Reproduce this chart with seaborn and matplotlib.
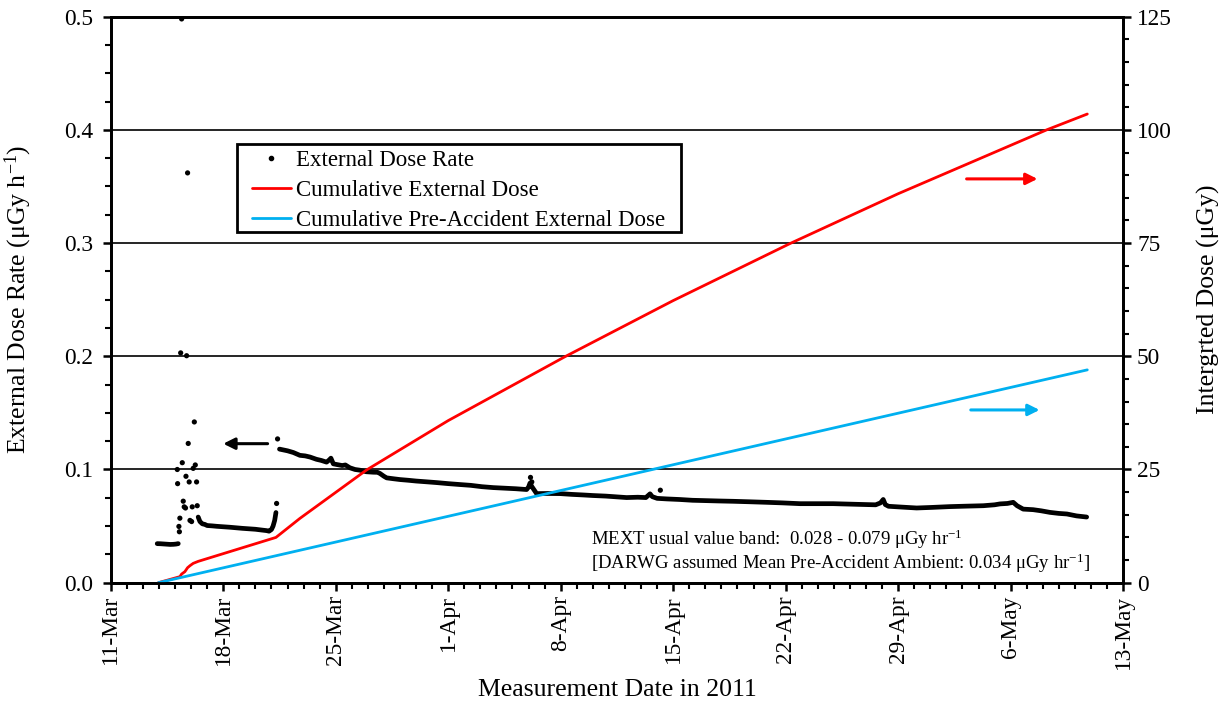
import numpy as np
import pandas as pd
import matplotlib
matplotlib.use("Agg")
import matplotlib.pyplot as plt
import matplotlib.dates as mdates
from matplotlib.lines import Line2D
from matplotlib.patches import Rectangle
from matplotlib.ticker import MultipleLocator, FormatStrFormatter
import seaborn as sns

START = pd.Timestamp("2011-03-11")

# ---------------- data (days after 11-Mar-2011 00:00) ----------------
# pre-accident baseline trace
base_days = [2.89, 3.1, 3.3, 3.5, 3.7, 3.9, 4.05, 4.2]
base_rate = [0.0345, 0.0344, 0.0342, 0.0340, 0.0338, 0.0339, 0.0341, 0.0345]

# trace between the first plume and the second rise
mid_days = [5.44, 5.55, 5.7, 5.85, 6.0, 6.3, 6.6, 7.0, 7.4, 7.8, 8.2, 8.6,
            9.0, 9.4, 9.7, 9.85, 10.0, 10.1, 10.2, 10.28]
mid_rate = [0.058, 0.054, 0.052, 0.0515, 0.0505, 0.0502, 0.0498, 0.0494,
            0.0490, 0.0485, 0.0480, 0.0476, 0.0472, 0.0465, 0.0460, 0.0455,
            0.0470, 0.0500, 0.0550, 0.0620]

# main trace from 21-Mar onwards
main_days = [10.5, 11.0, 11.36, 11.77, 12.1, 12.4, 12.8, 13.1, 13.43, 13.6,
             13.7, 13.85, 14.06, 14.4, 14.6, 14.88, 15.2, 15.5, 15.9, 16.33,
             16.6, 16.75, 17.0, 17.17, 17.6, 18.0, 18.5, 19.0, 19.66, 20.3,
             21.0, 21.73, 22.4, 23.1, 23.8, 24.5, 25.2, 25.88, 26.0, 26.09,
             26.2, 26.4, 26.5, 27.2, 27.95, 28.7, 29.4, 30.0, 30.8, 31.5,
             32.1, 32.8, 33.3, 33.56, 33.7, 34.0, 34.6, 35.4, 36.2, 37.0,
             37.8, 38.74, 39.7, 40.8, 41.8, 42.9, 43.9, 44.96, 46.0, 47.04,
             47.6, 47.9, 48.07, 48.2, 48.4, 49.2, 50.15, 51.1, 52.2, 53.2,
             54.3, 55.0, 55.34, 55.8, 56.16, 56.4, 56.78, 57.4, 57.9, 58.45,
             59.0, 59.5, 60.1, 60.73]
main_rate = [0.118, 0.1165, 0.115, 0.1125, 0.112, 0.111, 0.109, 0.108, 0.1065, 0.1085,
             0.110, 0.105, 0.1044, 0.1035, 0.104, 0.1015, 0.100, 0.0994, 0.098, 0.0976,
             0.0975, 0.0965, 0.094, 0.0926, 0.0918, 0.0911, 0.0905, 0.0898, 0.0891, 0.0884,
             0.0875, 0.0867, 0.086, 0.0848, 0.084, 0.0835, 0.083, 0.0823, 0.0845, 0.088,
             0.085, 0.0808, 0.0787, 0.0788, 0.0787, 0.078, 0.0775, 0.077, 0.0765, 0.0758,
             0.0752, 0.0755, 0.0752, 0.0785, 0.076, 0.0745, 0.074, 0.0735, 0.0728, 0.0725,
             0.0722, 0.0719, 0.0715, 0.071, 0.0705, 0.0698, 0.0698, 0.0698, 0.0694, 0.069,
             0.0688, 0.0705, 0.0735, 0.069, 0.0675, 0.0668, 0.066, 0.0665, 0.0672, 0.0676,
             0.068, 0.0688, 0.0696, 0.070, 0.071, 0.068, 0.065, 0.0645, 0.0635, 0.0621,
             0.0612, 0.0607, 0.059, 0.058]

# isolated readings (plume spikes and outliers)
spike_days = [4.24, 4.27, 4.30, 4.16, 4.14, 4.45, 4.68, 4.82, 4.88, 4.51,
              4.57, 4.65, 5.07, 4.93, 5.03, 5.13, 5.26, 5.34, 5.20, 5.38,
              4.41, 4.78, 4.35, 4.72, 10.32, 10.38, 26.12, 26.2, 34.2]
spike_rate = [0.0497, 0.045, 0.057, 0.0875, 0.100, 0.106, 0.094, 0.123, 0.089, 0.072,
              0.067, 0.066, 0.067, 0.055, 0.054, 0.101, 0.104, 0.089, 0.142, 0.068,
              0.498, 0.362, 0.203, 0.2005, 0.070, 0.127, 0.093, 0.089, 0.0817]

# cumulative doses (uGy)
cum_days = [2.96, 4.30, 4.41, 4.61, 4.78, 4.93, 5.13, 5.44, 10.28, 11.77,
            15.92, 21.0, 28.26, 35.0, 42.27, 49.0, 58.24, 60.77]
cum_dose = [0.0, 1.33, 1.91, 2.43, 3.31, 3.76, 4.27, 4.71, 10.0, 14.2,
            24.9, 35.8, 49.9, 62.3, 74.9, 85.9, 100.0, 103.5]

pre_days = [2.96, 60.77]
pre_dose = [0.0, 47.0]

tick_labels = ["11-Mar", "18-Mar", "25-Mar", "1-Apr", "8-Apr", "15-Apr",
               "22-Apr", "29-Apr", "6-May", "13-May"]

# ---------------- build tables ----------------
def to_dates(d):
    return START + pd.to_timedelta(np.asarray(d, dtype=float), unit="D")

trace = pd.DataFrame({
    "date": np.concatenate([to_dates(base_days), to_dates(mid_days), to_dates(main_days)]),
    "rate": base_rate + mid_rate + main_rate,
    "seg": [0] * len(base_days) + [1] * len(mid_days) + [2] * len(main_days),
})
spikes = pd.DataFrame({"date": to_dates(spike_days), "rate": spike_rate})
cum = pd.DataFrame({"date": to_dates(cum_days), "dose": cum_dose})
pre = pd.DataFrame({"date": to_dates(pre_days), "dose": pre_dose})

# ---------------- style ----------------
sns.set_theme(style="ticks", rc={
    "text.color": "black", "axes.labelcolor": "black",
    "xtick.color": "black", "ytick.color": "black", "axes.edgecolor": "black",
})
plt.rcParams["font.family"] = ["Liberation Serif", "DejaVu Serif"]
plt.rcParams["mathtext.fontset"] = "custom"
plt.rcParams["mathtext.rm"] = "Liberation Serif"
plt.rcParams["mathtext.it"] = "Liberation Serif:italic"
plt.rcParams["mathtext.bf"] = "Liberation Serif:bold"

RED = "#FF0000"
BLUE = "#00B0F0"

fig = plt.figure(figsize=(12.28, 7.02), dpi=100)
ax = fig.add_axes([0.0902, 0.16995, 0.8244, 0.8063])

ax.grid(axis="y", which="major", color="black", lw=1.2)
ax.set_axisbelow(True)

sns.lineplot(data=trace, x="date", y="rate", units="seg", estimator=None,
             color="black", lw=3.4, ax=ax, legend=False)
sns.scatterplot(data=spikes, x="date", y="rate", color="black", s=14,
                edgecolor="none", ax=ax, legend=False)

ax2 = ax.twinx()
sns.lineplot(data=cum, x="date", y="dose", color=RED, lw=2.0, ax=ax2)
sns.lineplot(data=pre, x="date", y="dose", color=BLUE, lw=2.0, ax=ax2)

# axes limits & ticks
ax.set_xlim(START, pd.Timestamp("2011-05-13"))
tick_dates = pd.date_range("2011-03-11", periods=len(tick_labels), freq="7D")
ax.set_xticks(tick_dates)
ax.set_xticklabels(tick_labels, rotation=90)
ax.xaxis.set_minor_locator(mdates.DayLocator())

ax.set_ylim(0, 0.5)
ax.set_yticks(np.arange(0, 0.51, 0.1))
ax.yaxis.set_major_formatter(FormatStrFormatter("%.1f"))
ax.yaxis.set_minor_locator(MultipleLocator(0.025))

ax2.set_ylim(0, 125)
ax2.set_yticks(np.arange(0, 126, 25))
ax2.yaxis.set_minor_locator(MultipleLocator(5))

for a in (ax, ax2):
    for s in a.spines.values():
        s.set_linewidth(2.0)
        s.set_color("black")
ax.tick_params(axis="both", which="major", direction="out", length=6, width=1.8,
               labelsize=16.8)
ax.tick_params(axis="y", which="major", pad=6.5)
ax.tick_params(axis="x", which="major", pad=3)
ax.tick_params(axis="both", which="minor", direction="out", length=4, width=1.5)
ax2.tick_params(axis="y", which="major", direction="out", length=6, width=1.8,
                labelsize=16.8, pad=4)
ax2.tick_params(axis="y", which="minor", direction="out", length=4, width=1.5)

ax.set_xlabel("Measurement Date in 2011", fontsize=18.5, labelpad=7)
ax.set_ylabel("External Dose Rate (μGy h$^{-1}$)", fontsize=18.5, labelpad=22)
ax2.set_ylabel("Intergrted Dose (μGy)", fontsize=18.5, labelpad=18)

# direction arrows
def dnum(d):
    return mdates.date2num(START + pd.Timedelta(days=d))

for (x0, x1, y, c) in [(9.76, 7.0, 0.1228, "black"),
                       (53.26, 57.67, 0.3567, RED),
                       (53.52, 57.8, 0.1526, BLUE)]:
    ax.annotate("", xy=(dnum(x1), y), xytext=(dnum(x0), y),
                arrowprops=dict(arrowstyle="-|>", color=c, lw=2.2,
                                mutation_scale=17, shrinkA=0, shrinkB=0))

# notes
ax.text(dnum(29.88), 0.0379, "MEXT usual value band:  0.028 - 0.079 μGy hr$^{-1}$",
        fontsize=13.5, va="center", ha="left")
ax.text(dnum(29.88), 0.0175,
        "[DARWG assumed Mean Pre-Accident Ambient: 0.034 μGy hr$^{-1}$]",
        fontsize=13.5, va="center", ha="left")

# legend (frame drawn separately to match the wide side padding)
handles = [
    Line2D([], [], ls="none", marker="o", markersize=3, color="black"),
    Line2D([], [], color=RED, lw=2.0),
    Line2D([], [], color=BLUE, lw=2.0),
]
labels = ["External Dose Rate", "Cumulative External Dose",
          "Cumulative Pre-Accident External Dose"]
leg = ax2.legend(handles, labels, loc="upper left", bbox_to_anchor=(0.1395, 0.764),
                 borderaxespad=0, fontsize=16.5, frameon=False,
                 handlelength=1.7, handletextpad=0.2, labelspacing=0.38,
                 borderpad=0)
ax2.add_patch(Rectangle((0.1247, 0.6196), 0.4386, 0.1555, transform=ax2.transAxes,
                        fill=False, edgecolor="black", lw=2.0, zorder=5))

fig.savefig("out.png", dpi=100)
